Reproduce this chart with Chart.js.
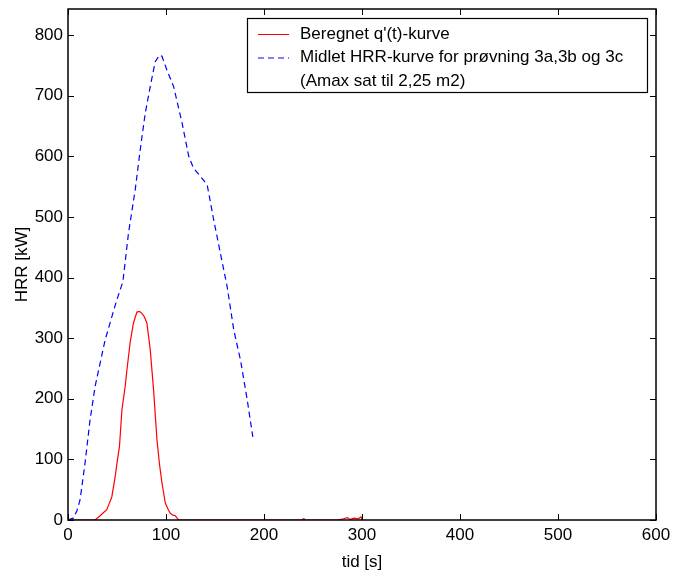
<!DOCTYPE html>
<html>
<head>
<meta charset="utf-8">
<script src="https://cdn.jsdelivr.net/npm/chart.js@4.4.0/dist/chart.umd.min.js"></script>
<style>
  html, body { margin: 0; padding: 0; background: #fff; }
  #wrap { width: 675px; height: 575px; }
</style>
</head>
<body>
<div id="wrap"><canvas id="hrrChart" width="675" height="575"></canvas></div>
<script>
// beregnet q'(t)-kurve
const redTime = [0, 27.6, 32.8, 36, 39.6, 42, 44.7, 48.1, 50.5, 52.5, 55, 58.3, 60.1, 63.5, 66.8, 70.3, 73, 75.4, 78, 80.5, 83.9, 87.3, 90.8, 93.5, 95.9, 99.3, 102, 104.4, 107, 109.5, 112.9,
  120, 140, 160, 190, 200, 215, 230, 238, 240.5, 243, 255, 265, 275, 281, 285, 288, 292, 296, 299, 300];
const redHrr = [0, 0, 7, 12, 17, 27, 38, 71, 100, 121, 181, 220, 247, 294, 325, 343, 344, 341, 335, 325, 281, 215, 132, 90, 61, 28, 18, 11, 8, 7, 0,
  0, 0, 0, 0, 0, 0, 0, 0, 2, 0, 0, 0, 0, 2, 4, 1, 3, 2, 5, 0];

// midlet HRR-kurve
const blueTime = [0, 5.4, 9, 12.3, 17.4, 22.5, 27.6, 32.8, 37.9, 44.7, 49.8, 56, 61.7, 68.6, 73.7, 78.8, 83.9, 89, 93.5, 95.9, 101, 107.8, 116.4, 123.2, 128.2, 135.1, 142, 148.7, 155.5, 162.4, 169.2, 176, 182.9, 188.6];
const blueHrr = [0, 3, 15, 33, 94, 165, 220, 259, 297, 335, 363, 393, 473, 545, 611, 671, 715, 756, 767, 765, 742, 715, 655, 600, 580, 567, 553, 495, 440, 385, 313, 264, 198, 137];

const seriesLabels = [
  ["Beregnet q'(t)-kurve"],
  ['Midlet HRR-kurve for prøvning 3a,3b og 3c', '(Amax sat til 2,25 m2)']
];
const xTicks = [0, 100, 200, 300, 400, 500, 600];
const yTicks = [0, 100, 200, 300, 400, 500, 600, 700, 800];

const FONT = 'Liberation Sans, Arial, sans-serif';

function toPoints(xs, ys) {
  return xs.map((x, i) => ({ x: x, y: ys[i] }));
}

// axes box, inward ticks and legend like matlab
const matlabFrame = {
  id: 'matlabFrame',
  afterDraw(chart) {
    const { ctx, chartArea: a, scales } = chart;
    const l = Math.round(a.left), r = Math.round(a.right);
    const t = Math.round(a.top), b = Math.round(a.bottom);
    ctx.save();
    ctx.strokeStyle = '#000';
    ctx.lineWidth = 1.5;
    ctx.strokeRect(l, t, r - l, b - t);

    ctx.lineWidth = 1;
    ctx.beginPath();
    xTicks.forEach(v => {
      const px = Math.round(scales.x.getPixelForValue(v)) + 0.5;
      ctx.moveTo(px, b); ctx.lineTo(px, b - 6);
      ctx.moveTo(px, t); ctx.lineTo(px, t + 6);
    });
    yTicks.forEach(v => {
      const py = Math.round(scales.y.getPixelForValue(v)) + 0.5;
      ctx.moveTo(l, py); ctx.lineTo(l + 6, py);
      ctx.moveTo(r, py); ctx.lineTo(r - 6, py);
    });
    ctx.stroke();

    // legend
    const bx = 247, by = 18, bw = 400, bh = 74;
    ctx.fillStyle = '#fff';
    ctx.fillRect(bx, by, bw, bh);
    ctx.lineWidth = 1.2;
    ctx.strokeStyle = '#000';
    ctx.strokeRect(bx + 0.5, by + 0.5, bw, bh);

    ctx.font = '17px ' + FONT;
    ctx.textBaseline = 'middle';
    ctx.textAlign = 'left';
    let rowY = 34;
    chart.data.datasets.forEach((ds, i) => {
      ctx.beginPath();
      ctx.strokeStyle = ds.borderColor;
      ctx.lineWidth = 1;
      ctx.setLineDash(ds.borderDash || []);
      ctx.moveTo(258, rowY + 0.5);
      ctx.lineTo(289, rowY + 0.5);
      ctx.stroke();
      ctx.setLineDash([]);
      ctx.fillStyle = '#000';
      seriesLabels[i].forEach(txt => {
        ctx.fillText(txt, 300, rowY);
        rowY += 23.5;
      });
    });
    ctx.restore();
  }
};

const ctx = document.getElementById('hrrChart').getContext('2d');
const hrrChart = new Chart(ctx, {
  type: 'scatter',
  data: {
    datasets: [{
      label: seriesLabels[0].join(' '),
      data: toPoints(redTime, redHrr),
      showLine: true,
      borderColor: '#ff0000',
      borderWidth: 1.2,
      pointRadius: 0,
      tension: 0
    }, {
      label: seriesLabels[1].join(' '),
      data: toPoints(blueTime, blueHrr),
      showLine: true,
      borderColor: '#0000ff',
      borderWidth: 1.2,
      borderDash: [6, 4],
      pointRadius: 0,
      tension: 0
    }]
  },
  options: {
    responsive: false,
    animation: false,
    layout: { padding: { left: 0, right: 19, top: 9, bottom: 0 } },
    plugins: {
      legend: { display: false },
      tooltip: { enabled: false }
    },
    scales: {
      x: {
        type: 'linear',
        min: 0,
        max: 600,
        grid: { display: false, drawTicks: false },
        border: { display: false },
        afterBuildTicks: s => { s.ticks = xTicks.map(v => ({ value: v })); },
        afterFit: s => { s.height = 55; s.paddingLeft = 0; s.paddingRight = 0; },
        ticks: { color: '#000', padding: 5, font: { family: FONT, size: 17 } },
        title: { display: true, text: 'tid [s]', color: '#000', padding: { top: 0, bottom: 2 }, font: { family: FONT, size: 17 } }
      },
      y: {
        type: 'linear',
        min: 0,
        max: 843,
        grid: { display: false, drawTicks: false },
        border: { display: false },
        afterBuildTicks: s => { s.ticks = yTicks.map(v => ({ value: v })); },
        afterFit: s => { s.width = 68; s.paddingTop = 0; s.paddingBottom = 0; },
        ticks: { color: '#000', padding: 5, font: { family: FONT, size: 17 } },
        title: { display: true, text: 'HRR [kW]', color: '#000', padding: { top: 12, bottom: 0 }, font: { family: FONT, size: 17 } }
      }
    }
  },
  plugins: [matlabFrame]
});
</script>
</body>
</html>
